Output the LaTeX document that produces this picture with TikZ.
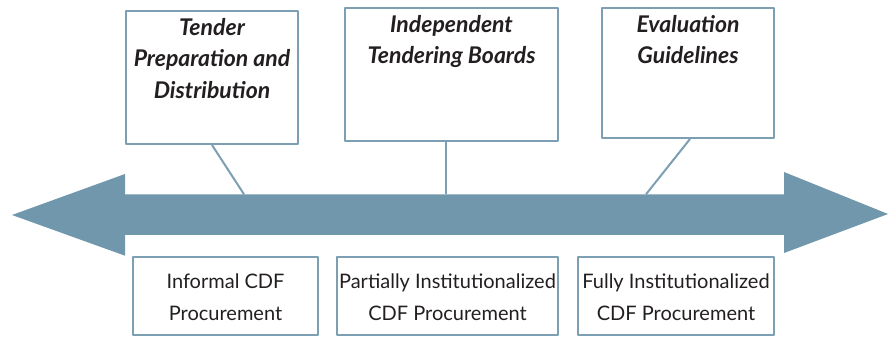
\documentclass[tikz,border=0pt]{standalone}
\usepackage{fontspec}
\setmainfont{Lato}
\definecolor{axisblue}{HTML}{7097AB}
\definecolor{framblue}{HTML}{7C9FB3}
\definecolor{inkgray}{HTML}{231F20}
\begin{document}
\begin{tikzpicture}[x=1pt, y=1pt, line join=round, text=inkgray,
	box/.style={draw=framblue, line width=2pt, inner sep=0pt},
	toptxt/.style={font=\fontsize{23}{31.5}\selectfont\bfseries\itshape, align=center, inner sep=0pt},
	lowtxt/.style={font=\fontsize{20}{32}\selectfont, align=center, inner sep=0pt}]
	\useasboundingbox (0,0) rectangle (888,337);
	\def\ys{142.7} \def\yb{102}
	% double arrow
	\fill[axisblue] (12,122) -- (125,163) -- (125,\ys) -- (784,\ys) -- (784,165) -- (888,123)
		-- (784,84) -- (784,\yb) -- (125,\yb) -- (125,81.3) -- cycle;
	\coordinate (a1) at (244,\ys);
	\coordinate (a2) at (446,\ys);
	\coordinate (a3) at (646,\ys);
	% upper boxes
	\node[box, minimum width=172, minimum height=133, anchor=north west] (t1) at (125,327) {};
	\node[box, minimum width=213, minimum height=133, anchor=north west] (t2) at (344,330) {};
	\node[box, minimum width=172, minimum height=130, anchor=north west] (t3) at (601,330) {};
	\node[toptxt, below] at ([yshift=-8]t1.north) {Tender\\Preparation and\\Distribution};
	\node[toptxt, below] at ([yshift=-8]t2.north) {Independent\\Tendering Boards};
	\node[toptxt, below] at ([yshift=-8]t3.north) {Evaluation\\Guidelines};
	\draw[framblue, line width=2pt] (t1.south) -- (a1);
	\draw[framblue, line width=2pt] (t2.south -| a2) -- (a2);
	\draw[framblue, line width=2pt] ([xshift=2]t3.south) -- (a3);
	% lower boxes
	\node[box, minimum width=185, minimum height=78, anchor=south west] (b1) at (132,1) {};
	\node[box, minimum width=221, minimum height=78, anchor=south west] (b2) at (336,1) {};
	\node[box, minimum width=196, minimum height=78, anchor=south west] (b3) at (577,1) {};
	\node[lowtxt] at ([yshift=-1]b1) {Informal CDF\\Procurement};
	\node[lowtxt] at ([yshift=-1]b2) {Partially Institutionalized\\CDF Procurement};
	\node[lowtxt] at ([yshift=-1]b3) {Fully Institutionalized\\CDF Procurement};
\end{tikzpicture}
\end{document}
